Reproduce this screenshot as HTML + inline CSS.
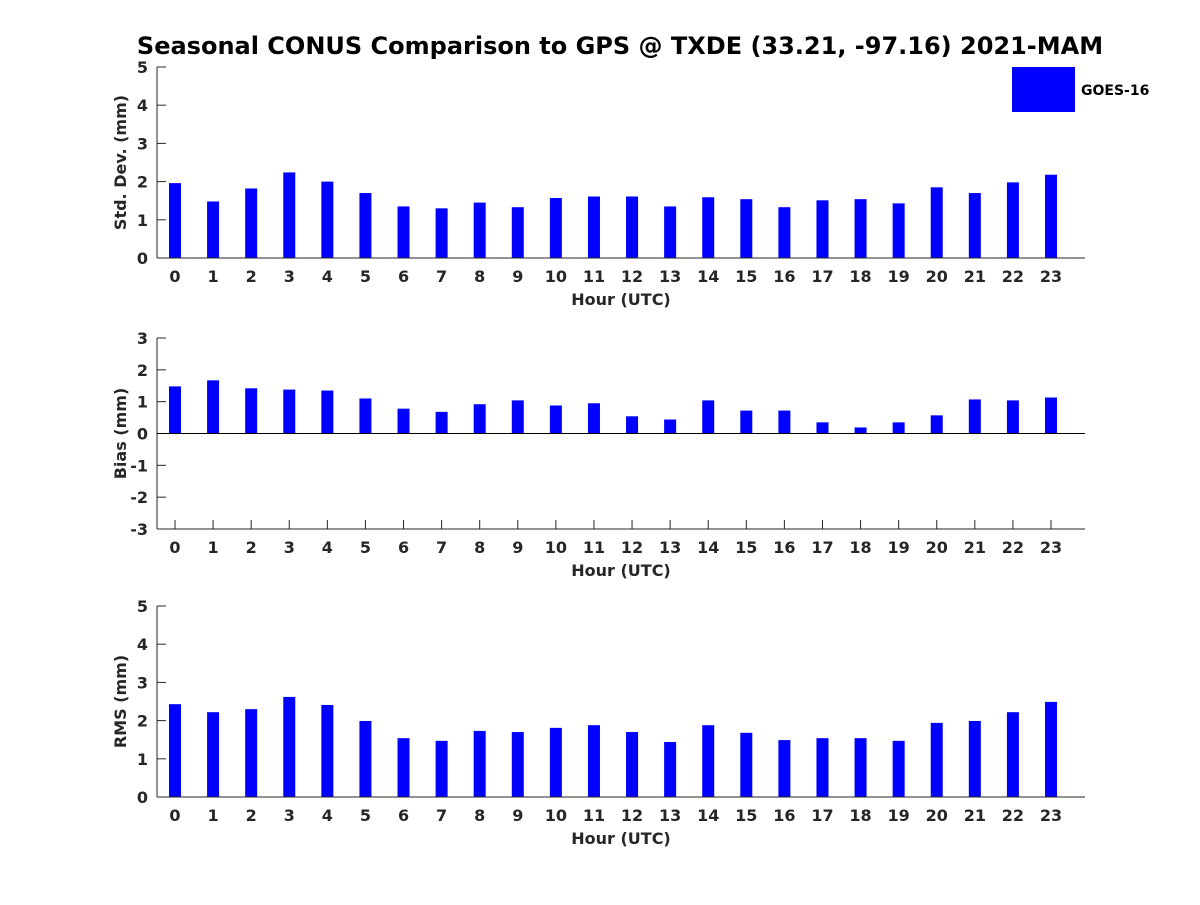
<!DOCTYPE html>
<html><head><meta charset="utf-8"><style>
body{margin:0;background:#fff}
svg text{font-family:"DejaVu Sans","Liberation Sans",sans-serif;font-weight:bold;fill:#262626}
</style></head><body>
<svg id="chart" width="1200" height="900" xmlns="http://www.w3.org/2000/svg">
<rect width="1200" height="900" fill="#fff"/>
<text x="620" y="54" text-anchor="middle" font-size="24" style="fill:#000">Seasonal CONUS Comparison to GPS @ TXDE (33.21, -97.16) 2021-MAM</text>
<rect x="1012" y="67" width="63" height="45" fill="#0000ff"/>
<text x="1081" y="95" font-size="14" style="fill:#000">GOES-16</text>
</svg>
<script>
const hours = [0,1,2,3,4,5,6,7,8,9,10,11,12,13,14,15,16,17,18,19,20,21,22,23];
const stdValues = [1.96,1.48,1.82,2.24,2.00,1.70,1.35,1.30,1.45,1.33,1.57,1.61,1.61,1.35,1.59,1.54,1.33,1.51,1.54,1.43,1.85,1.70,1.98,2.18];
const biasValues = [1.48,1.67,1.42,1.38,1.35,1.10,0.78,0.68,0.92,1.04,0.88,0.95,0.54,0.44,1.04,0.72,0.72,0.35,0.19,0.35,0.57,1.07,1.04,1.13];
const rmsValues = [2.43,2.22,2.30,2.62,2.41,1.99,1.54,1.47,1.73,1.70,1.81,1.88,1.70,1.44,1.88,1.68,1.49,1.54,1.54,1.47,1.94,1.99,2.22,2.49];
const stdTicks = [0,1,2,3,4,5];
const biasTicks = [-3,-2,-1,0,1,2,3];
const rmsTicks = [0,1,2,3,4,5];

const svg = document.getElementById('chart');
const NS = 'http://www.w3.org/2000/svg';
function mk(tag, attrs){const e=document.createElementNS(NS,tag);for(const k in attrs)e.setAttribute(k,attrs[k]);svg.appendChild(e);return e;}
const X0=157, X1=1085;
function xScale(h){return 175 + (h-hours[0])*(1051-175)/(hours[hours.length-1]-hours[0]);}

function panel(name, values, ticks, top, bottom, ylabel){
  const ymin=ticks[0], ymax=ticks[ticks.length-1];
  const y = v => bottom - (v-ymin)*(bottom-top)/(ymax-ymin);
  // x ticks
  hours.forEach(h=>{
    const t=mk('line',{x1:xScale(h),x2:xScale(h),y1:bottom,y2:bottom-9,stroke:'#262626','stroke-width':1});
    
    
    const l=mk('text',{x:xScale(h),y:bottom+24,'text-anchor':'middle','font-size':16});
    l.textContent=h;
    
    
  });
  ticks.forEach(v=>{
    const t=mk('line',{x1:X0,x2:X0+9,y1:y(v),y2:y(v),stroke:'#262626','stroke-width':1});
    
    
    const l=mk('text',{x:X0-9,y:y(v)+6,'text-anchor':'end','font-size':16});
    l.textContent=v;
    
    
  });
  values.forEach((v,i)=>{
    const y0=y(Math.max(0,ymin)), yv=y(v);
    const b=mk('rect',{x:xScale(hours[i])-6,y:Math.min(y0,yv),width:12,height:Math.abs(y0-yv),fill:'#0000ff'});
    
    
  });
  const ax=mk('line',{x1:X0,x2:X0,y1:top,y2:bottom,stroke:'#262626','stroke-width':1});
  
  
  const bx=mk('line',{x1:X0,x2:X1,y1:bottom,y2:bottom,stroke:'#262626','stroke-width':1});
  
  
  if(ymin<0){
    const z=mk('line',{x1:X0,x2:X1,y1:y(0),y2:y(0),stroke:'#000','stroke-width':1});
    
    
  }
  const xt=mk('text',{x:621,y:bottom+47,'text-anchor':'middle','font-size':16});
  xt.textContent='Hour (UTC)';
  
  
  const cy=(top+bottom)/2;
  const yt=mk('text',{x:0,y:0,'text-anchor':'middle','font-size':16,transform:'translate(126,'+cy+') rotate(-90)'});
  yt.textContent=ylabel;
  
  
}
panel('std-dev', stdValues, stdTicks, 67, 258, 'Std. Dev. (mm)');
panel('bias', biasValues, biasTicks, 338, 529, 'Bias (mm)');
panel('rms', rmsValues, rmsTicks, 606, 797, 'RMS (mm)');
</script>
</body></html>
